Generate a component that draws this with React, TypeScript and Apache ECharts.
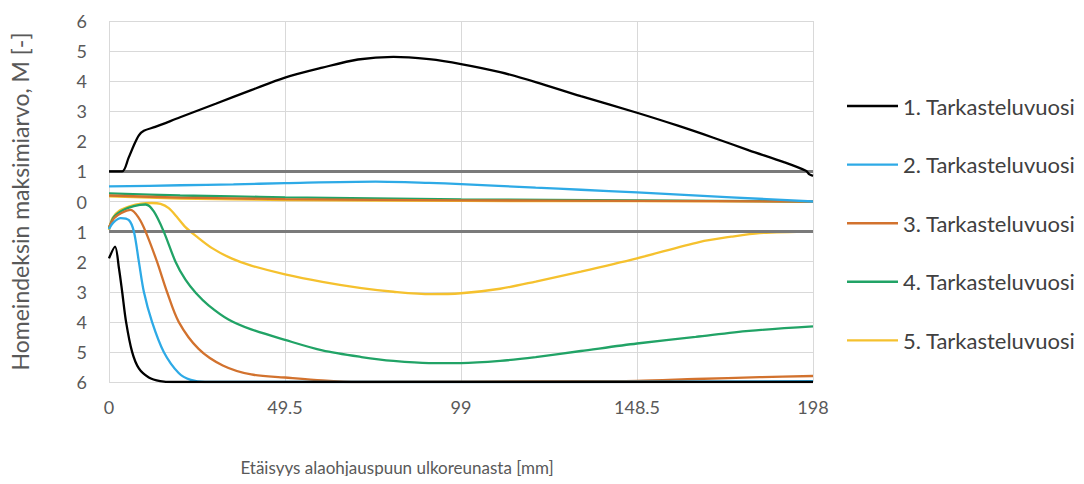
import React, { useEffect, useRef } from "react";
import * as echarts from "echarts";

// Series names
const seriesNames = [
  "1. Tarkasteluvuosi",
  "2. Tarkasteluvuosi",
  "3. Tarkasteluvuosi",
  "4. Tarkasteluvuosi",
  "5. Tarkasteluvuosi",
];
const seriesColors = ["#000000", "#2EAAE6", "#D2722E", "#21A366", "#F5C12E"];

// x-axis ticks
const xTicks = [0, 49.5, 99, 148.5, 198];
const thresholds = [1, -1];

// Upper half: M at one side ([x mm, M])
const s1Upper = [[0,1],[3.7,1],[5.5,1.45],[7,1.87],[8.4,2.2],[9.8,2.35],[13,2.48],[20,2.8],[30,3.25],[40,3.7],[49.5,4.12],[60,4.45],[70,4.72],[80,4.81],[90,4.73],[99,4.57],[110,4.3],[120,3.97],[132.7,3.5],[148.5,2.95],[160,2.52],[170,2.12],[180,1.7],[190,1.3],[196,1.02],[197,0.9],[198,0.85]];
const s2Upper = [[0,0.5],[20,0.54],[35,0.57],[49.5,0.61],[75,0.66],[90,0.62],[99,0.58],[120,0.46],[132.7,0.39],[148.5,0.3],[175,0.14],[198,0]];
const s3Upper = [[0,0.2],[20,0.13],[49.5,0.08],[99,0.04],[148.5,0.02],[198,0]];
const s4Upper = [[0,0.27],[20,0.2],[35,0.17],[49.5,0.14],[99,0.07],[148.5,0.04],[198,0]];
const s5Upper = [[0,0.17],[20,0.1],[49.5,0.05],[99,0.02],[198,0]];

// Lower half: M at the other side ([x mm, M]), drawn downward
const s1Lower = [[0,1.89],[1.7,1.5],[2.8,2.22],[3.7,3.0],[4.8,4.0],[6.5,5.0],[8.4,5.55],[11.2,5.85],[14.4,5.97],[18,6.0],[40,6.0],[100,6.0],[198,6.0]];
const s2Lower = [[0,0.92],[1.2,0.7],[3.3,0.55],[5.6,0.62],[7,1.0],[8.4,2.0],[9.8,3.0],[12.1,4.0],[15.4,5.0],[19.6,5.7],[23,5.93],[27,6.0],[60,6.0],[120,6.0],[198,5.97]];
const s3Lower = [[0,0.85],[1.5,0.55],[3.5,0.38],[6.1,0.28],[8.4,0.55],[10.3,1.0],[13.5,2.0],[16.3,3.0],[19.6,4.0],[25.2,4.9],[32,5.45],[40,5.75],[49.5,5.85],[60,5.95],[70,6.0],[132.7,5.97],[148.5,5.96],[165,5.9],[183,5.84],[198,5.8]];
const s4Lower = [[0,0.88],[1.5,0.5],[4,0.28],[7,0.15],[10.3,0.1],[12.6,0.33],[15.4,1.0],[18.7,2.0],[21.5,2.6],[24.5,3.05],[28,3.45],[33.6,3.92],[40,4.25],[49.5,4.6],[60,4.95],[71,5.17],[80,5.3],[90,5.37],[99,5.37],[110,5.3],[120,5.17],[132.7,4.97],[148.5,4.72],[165,4.5],[180,4.3],[198,4.15]];
const s5Lower = [[0,0.95],[1,0.55],[3,0.3],[6,0.15],[9,0.07],[12,0.05],[14.5,0.08],[16.8,0.22],[19,0.5],[21.5,0.85],[24.5,1.15],[29,1.55],[34.6,1.9],[40,2.13],[49.5,2.42],[60,2.67],[71,2.88],[80,3.0],[90.6,3.08],[99,3.05],[110,2.9],[120,2.66],[132.7,2.33],[148.5,1.89],[166,1.35],[175,1.17],[183,1.05],[198,1.0]];

const uppers = [s1Upper, s2Upper, s3Upper, s4Upper, s5Upper];
const lowers = [s1Lower, s2Lower, s3Lower, s4Lower, s5Lower];

const FONT = "Lato";

export default function App() {
  const ref = useRef<HTMLDivElement>(null);
  useEffect(() => {
    if (!ref.current) return;
    const chart = echarts.init(ref.current, undefined, { renderer: "svg" });
    const series: any[] = [];
    // draw in reverse so black is on top
    for (let i = seriesNames.length - 1; i >= 0; i--) {
      const common = {
        type: "line",
        name: seriesNames[i],
        showSymbol: false,
        symbol: "none",
        smooth: 0.3,
        color: seriesColors[i],
        lineStyle: { width: 2.3, color: seriesColors[i] },
        z: 3 + (5 - i),
      };
      series.push({ ...common, data: uppers[i] });
      series.push({ ...common, data: lowers[i].map((p) => [p[0], -p[1]]) });
    }
    series.push({
      type: "line",
      name: "raja",
      data: [],
      markLine: {
        silent: true,
        symbol: "none",
        label: { show: false },
        lineStyle: { color: "#7a7a7a", width: 3, type: "solid" },
        data: thresholds.map((t) => ({ yAxis: t })),
      },
      z: 2,
    });
    chart.setOption({
      animation: false,
      backgroundColor: "#ffffff",
      grid: { left: 107, right: 271, top: 21, bottom: 102, containLabel: false },
      legend: {
        data: seriesNames,
        orient: "vertical",
        left: 847,
        top: 95,
        padding: 0,
        itemWidth: 51,
        itemHeight: 22,
        itemGap: 36.6,
        icon: "path://M0,0 L51,0 L51,2.4 L0,2.4 Z",
        textStyle: { fontFamily: FONT, fontSize: 22, lineHeight: 22, color: "#404040" },
      },
      xAxis: {
        type: "value",
        min: 0,
        max: 198,
        interval: 49.5,
        axisLine: { show: false },
        axisTick: { show: false },
        axisLabel: { fontFamily: FONT, fontSize: 18, color: "#595959", margin: 16 },
        splitLine: { show: true, lineStyle: { color: "#d9d9d9", width: 1 } },
        name: "Etäisyys alaohjauspuun ulkoreunasta [mm]",
        nameLocation: "middle",
        nameGap: 77,
        nameTextStyle: { fontFamily: FONT, fontSize: 17, color: "#595959", padding: [0, 128, 0, 0] },
      },
      yAxis: {
        type: "value",
        min: -6,
        max: 6,
        interval: 1,
        axisLine: { show: false },
        axisTick: { show: false },
        axisLabel: {
          fontFamily: FONT,
          fontSize: 18,
          color: "#595959",
          margin: 22,
          formatter: (v: number) => String(Math.abs(v)),
        },
        splitLine: { show: true, lineStyle: { color: "#d9d9d9", width: 1 } },
        name: "Homeindeksin maksimiarvo, M [-]",
        nameLocation: "middle",
        nameGap: 78,
        nameTextStyle: { fontFamily: FONT, fontSize: 23, color: "#595959" },
      },
      series,
    });
    return () => chart.dispose();
  }, []);
  return <div ref={ref} style={{ width: 1084, height: 484, margin: -8 }} />;
}
